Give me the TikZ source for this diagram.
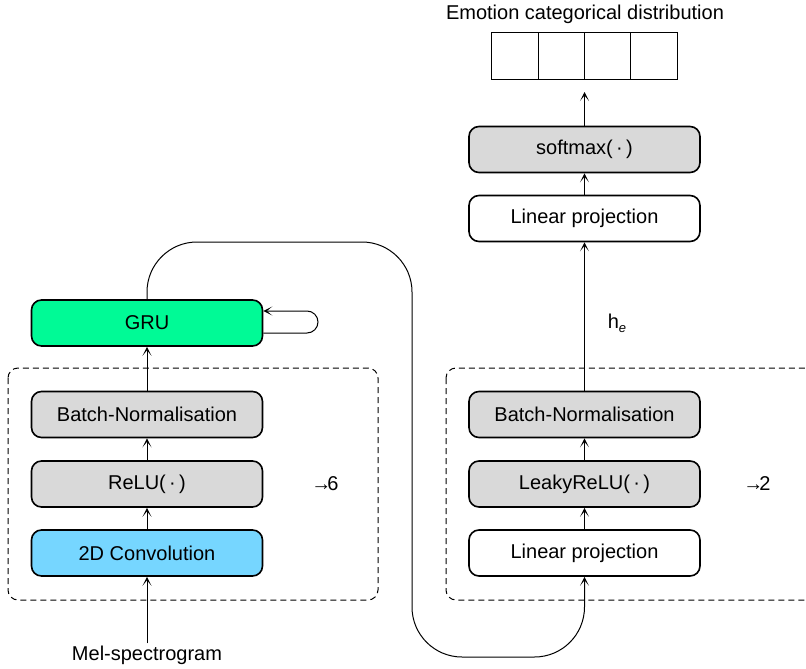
\documentclass[tikz,border=0pt]{standalone}
\usepackage{fontspec}
\setmainfont{Liberation Sans}
\usetikzlibrary{arrows.meta}
\definecolor{grugreen}{RGB}{0,250,150}
\definecolor{convblue}{RGB}{118,214,255}
\definecolor{boxgray}{RGB}{217,217,217}
\tikzset{
  blk/.style={draw=black, line width=1.6pt, rounded corners=10pt, minimum width=231pt, minimum height=46pt, inner sep=0pt, font=\fontsize{20}{24}\selectfont},
  graybox/.style={blk, fill=boxgray},
  whitebox/.style={blk, fill=white},
  arr/.style={line width=1pt, -{Stealth[length=9pt,width=9pt,inset=5.5pt]}},
  dashbox/.style={draw=black, line width=1pt, dash pattern=on 6pt off 4pt, rounded corners=10pt},
  cell/.style={draw=black, line width=1pt, minimum width=46.25pt, minimum height=47pt, inner sep=0pt},
  lbl/.style={font=\fontsize{20}{24}\selectfont, inner sep=2pt}
}
\begin{document}
\begin{tikzpicture}[x=1pt, y=-1pt]
\useasboundingbox (0,0) rectangle (806,669);
% dashed groups
\draw[dashbox] (8,368) rectangle (378,600);
\draw[dashbox] (446,368) rectangle (830,600);
% left column
\node[blk, fill=grugreen] (gru) at (147,323) {GRU};
\node[graybox] (bn1) at (147,414.5) {Batch-Normalisation};
\node[graybox] (relu) at (147,484) {ReLU(\,·\,)};
\node[blk, fill=convblue] (conv) at (147,553) {2D Convolution};
\node[lbl] (mel) at (147,655) {Mel-spectrogram};
\node[lbl] (rep6) at (325,484) {→\kern-4pt6};
% right column
\node[whitebox] (lp1) at (584.5,553) {Linear projection};
\node[graybox] (leaky) at (584.5,484) {LeakyReLU(\,·\,)};
\node[graybox] (bn2) at (584.5,414.5) {Batch-Normalisation};
\node[lbl] (rep2) at (757,484) {→\kern-4pt2};
\node[whitebox] (lp2) at (584.5,218.5) {Linear projection};
\node[graybox] (soft) at (584.5,149.5) {softmax(\,·\,)};
\node[lbl] (he) at (617,323) {h\raisebox{-4pt}{\fontsize{13}{15}\selectfont\itshape e}};
% distribution cells
\node[cell] (c1) at (515.1,56.5) {};
\node[cell] (c2) at (561.4,56.5) {};
\node[cell] (c3) at (607.6,56.5) {};
\node[cell] (c4) at (653.9,56.5) {};
\node[lbl] (title) at (585,14) {Emotion categorical distribution};
% arrows left
\draw[arr] (mel.north) -- (conv.south);
\draw[arr] (conv.north) -- (relu.south);
\draw[arr] (relu.north) -- (bn1.south);
\draw[arr] (bn1.north) -- (gru.south);
% self loop
\draw[arr] ([yshift=-10pt]gru.east) -- (307,333) arc[start angle=-90, end angle=90, radius=11pt] -- ([yshift=12pt]gru.east);
% big connector
\draw[arr, rounded corners=50pt] (gru.north) -- (147,242) -- (412,242) -- (412,657) -- (584.5,657) -- (lp1.south);
% arrows right
\draw[arr] (lp1.north) -- (leaky.south);
\draw[arr] (leaky.north) -- (bn2.south);
\draw[arr] (bn2.north) -- (lp2.south);
\draw[arr] (lp2.north) -- (soft.south);
\draw[arr, shorten >=12pt] (soft.north) -- (584.5,80);
\end{tikzpicture}
\end{document}
